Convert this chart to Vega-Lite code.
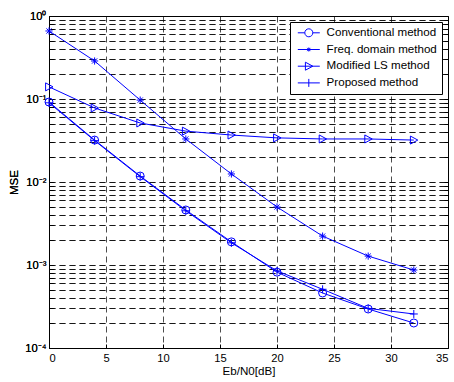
{
  "$schema": "https://vega.github.io/schema/vega-lite/v6.json",
  "autosize": "none",
  "width": 399,
  "height": 332,
  "padding": {"left": 49, "top": 16, "right": 6, "bottom": 34},
  "background": "white",
  "config": {
    "view": {"stroke": "black", "strokeWidth": 1},
    "font": "Liberation Sans",
    "axis": {
      "labelFont": "Liberation Sans",
      "titleFont": "Liberation Sans",
      "labelFontSize": 11.2,
      "titleFontSize": 11.6,
      "titleFontWeight": "normal",
      "labelColor": "black",
      "titleColor": "black",
      "domainColor": "black",
      "tickColor": "black",
      "gridColor": "#000000",
      "gridDash": [6, 4],
      "gridWidth": 0.7,
      "gridOpacity": 1
    }
  },
  "data": {
    "values": [
      {"x": 0, "mse": 0.092, "series": "Conventional method"},
      {"x": 4, "mse": 0.032, "series": "Conventional method"},
      {"x": 8, "mse": 0.0118, "series": "Conventional method"},
      {"x": 12, "mse": 0.0046, "series": "Conventional method"},
      {"x": 16, "mse": 0.0019, "series": "Conventional method"},
      {"x": 20, "mse": 0.00082, "series": "Conventional method"},
      {"x": 24, "mse": 0.00046, "series": "Conventional method"},
      {"x": 28, "mse": 0.000295, "series": "Conventional method"},
      {"x": 32, "mse": 0.0002, "series": "Conventional method"},
      {"x": 0, "mse": 0.66, "series": "Freq. domain method"},
      {"x": 4, "mse": 0.287, "series": "Freq. domain method"},
      {"x": 8, "mse": 0.097, "series": "Freq. domain method"},
      {"x": 12, "mse": 0.033, "series": "Freq. domain method"},
      {"x": 16, "mse": 0.0125, "series": "Freq. domain method"},
      {"x": 20, "mse": 0.005, "series": "Freq. domain method"},
      {"x": 24, "mse": 0.00223, "series": "Freq. domain method"},
      {"x": 28, "mse": 0.00128, "series": "Freq. domain method"},
      {"x": 32, "mse": 0.00087, "series": "Freq. domain method"},
      {"x": 0, "mse": 0.14, "series": "Modified LS method"},
      {"x": 4, "mse": 0.078, "series": "Modified LS method"},
      {"x": 8, "mse": 0.0514, "series": "Modified LS method"},
      {"x": 12, "mse": 0.041, "series": "Modified LS method"},
      {"x": 16, "mse": 0.0368, "series": "Modified LS method"},
      {"x": 20, "mse": 0.034, "series": "Modified LS method"},
      {"x": 24, "mse": 0.033, "series": "Modified LS method"},
      {"x": 28, "mse": 0.033, "series": "Modified LS method"},
      {"x": 32, "mse": 0.032, "series": "Modified LS method"},
      {"x": 0, "mse": 0.09, "series": "Proposed method"},
      {"x": 4, "mse": 0.0315, "series": "Proposed method"},
      {"x": 8, "mse": 0.0116, "series": "Proposed method"},
      {"x": 12, "mse": 0.0045, "series": "Proposed method"},
      {"x": 16, "mse": 0.00185, "series": "Proposed method"},
      {"x": 20, "mse": 0.00085, "series": "Proposed method"},
      {"x": 24, "mse": 0.00051, "series": "Proposed method"},
      {"x": 28, "mse": 0.0003, "series": "Proposed method"},
      {"x": 32, "mse": 0.000257, "series": "Proposed method"}
    ]
  },
  "encoding": {
    "x": {
      "field": "x", "type": "quantitative",
      "scale": {"domain": [0, 35], "nice": false, "zero": false},
      "axis": {
        "title": "Eb/N0[dB]",
        "values": [0, 5, 10, 15, 20, 25, 30, 35],
        "grid": true,
        "tickSize": -4,
        "labelPadding": 8,
        "titlePadding": 2,
        "domain": false
      }
    },
    "y": {
      "field": "mse", "type": "quantitative",
      "scale": {"type": "log", "domain": [0.0001, 1], "nice": false},
      "axis": {
        "title": "MSE",
        "values": [0.0001, 0.0002, 0.0003, 0.0004, 0.0005, 0.0006, 0.0007, 0.0008, 0.0009,
                   0.001, 0.002, 0.003, 0.004, 0.005, 0.006, 0.007, 0.008, 0.009,
                   0.01, 0.02, 0.03, 0.04, 0.05, 0.06, 0.07, 0.08, 0.09,
                   0.1, 0.2, 0.3, 0.4, 0.5, 0.6, 0.7, 0.8, 0.9, 1],
        "labelExpr": "datum.value == 1 ? '10⁰' : datum.value == 0.1 ? '10⁻¹' : datum.value == 0.01 ? '10⁻²' : datum.value == 0.001 ? '10⁻³' : datum.value == 0.0001 ? '10⁻⁴' : ''",
        "grid": true,
        "tickSize": -4,
        "labelPadding": 7,
        "titlePadding": 5,
        "domain": false
      }
    }
  },
  "resolve": {"scale": {"shape": "independent"}, "legend": {"shape": "independent"}, "axis": {"y": "independent"}},
  "layer": [
    {
      "mark": {"type": "line", "color": "#0000ff", "strokeWidth": 1},
      "encoding": {"detail": {"field": "series"}}
    },
    {
      "mark": {"type": "point", "filled": false, "color": "#0000ff", "strokeWidth": 1, "size": 64, "opacity": 1},
      "encoding": {
        "y": {
          "field": "mse", "type": "quantitative",
          "scale": {"type": "log", "domain": [0.0001, 1], "nice": false},
          "axis": {
            "orient": "right",
            "title": null,
            "labels": false,
            "grid": false,
            "domain": false,
            "tickSize": -4,
            "values": [0.0001, 0.0002, 0.0003, 0.0004, 0.0005, 0.0006, 0.0007, 0.0008, 0.0009,
                       0.001, 0.002, 0.003, 0.004, 0.005, 0.006, 0.007, 0.008, 0.009,
                       0.01, 0.02, 0.03, 0.04, 0.05, 0.06, 0.07, 0.08, 0.09,
                       0.1, 0.2, 0.3, 0.4, 0.5, 0.6, 0.7, 0.8, 0.9, 1]
          }
        },
        "shape": {
          "field": "series", "type": "nominal",
          "scale": {
            "domain": ["Conventional method", "Freq. domain method", "Modified LS method", "Proposed method"],
            "range": [
              "circle",
              "M0,-0.9V0.9M-0.9,0H0.9M-0.65,-0.65L0.65,0.65M-0.65,0.65L0.65,-0.65",
              "M-0.85,-1L1,0L-0.85,1Z",
              "M0,-1V1M-1,0H1"
            ]
          },
          "legend": null
        }
      }
    },
    {
      "transform": [{"filter": "datum.x < 0"}],
      "mark": {"type": "point", "filled": false, "color": "#0000ff", "strokeWidth": 1, "opacity": 1},
      "encoding": {
        "shape": {
          "field": "series", "type": "nominal",
          "scale": {
            "domain": ["Conventional method", "Freq. domain method", "Modified LS method", "Proposed method"],
            "range": [
              "M-2.75,0H-1M1,0H2.75M1,0A1,1 0 1,1 -1,0A1,1 0 1,1 1,0",
              "M-2.75,0H2.75M0,-0.5V0.5M-0.4,-0.4L0.4,0.4M-0.4,0.4L0.4,-0.4",
              "M-2.75,0H2.75M-0.85,-1L1,0L-0.85,1Z",
              "M-2.75,0H2.75M0,-1V1"
            ]
          },
          "legend": {
            "title": null,
            "orient": "top-right",
            "offset": 6,
            "fillColor": "white",
            "strokeColor": "black",
            "padding": 5,
            "symbolSize": 64,
            "symbolStrokeColor": "#0000ff",
            "symbolStrokeWidth": 1,
            "symbolFillColor": "transparent",
            "symbolOffset": 8,
            "labelOffset": 12,
            "labelFont": "Liberation Sans",
            "labelFontSize": 11.6,
            "labelColor": "black",
            "rowPadding": 3.7,
            "labelExpr": "datum.label + '   '"
          }
        }
      }
    }
  ]
}
